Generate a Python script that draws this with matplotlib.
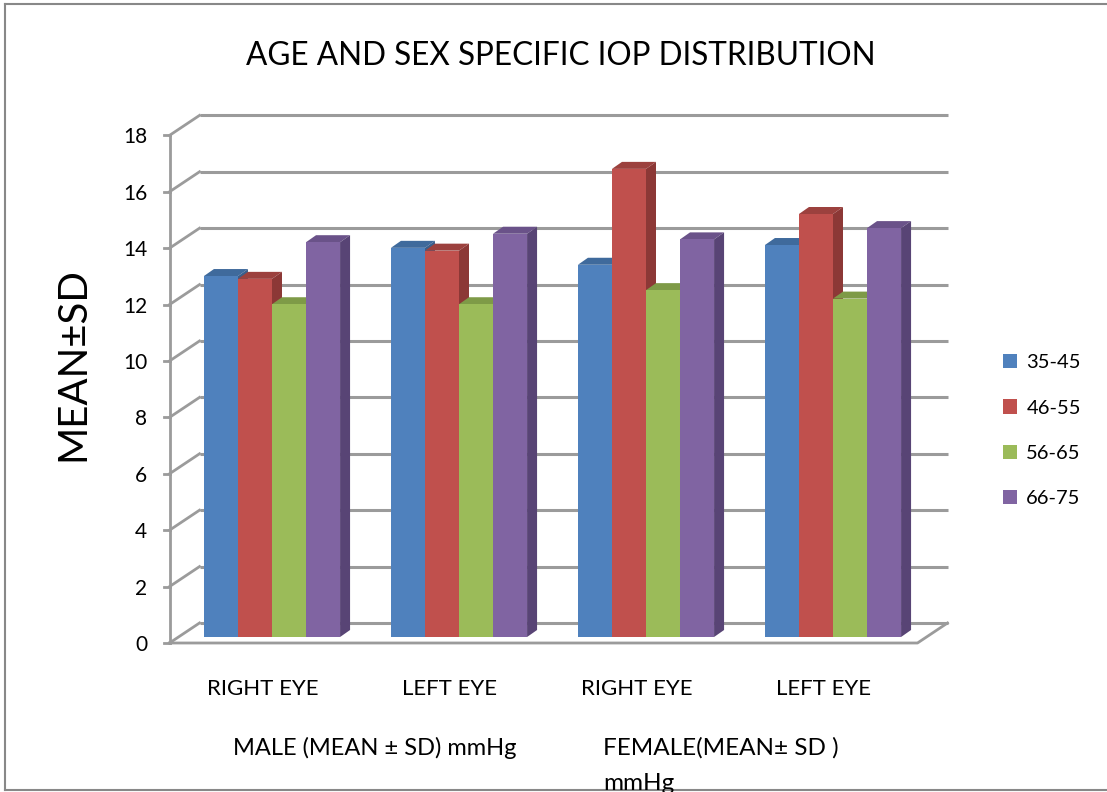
import matplotlib.pyplot as plt
from matplotlib.patches import Polygon, Patch
from matplotlib.lines import Line2D

# ----------------------------------------------------------
# Data
# ----------------------------------------------------------
categories = ["RIGHT EYE", "LEFT EYE", "RIGHT EYE", "LEFT EYE"]
age_groups = ["35-45", "46-55", "56-65", "66-75"]
iop_35_45 = [12.8, 13.8, 13.2, 13.9]
iop_46_55 = [12.7, 13.7, 16.6, 15.0]
iop_56_65 = [11.8, 11.8, 12.3, 12.0]
iop_66_75 = [14.0, 14.3, 14.1, 14.5]
y_ticks = list(range(0, 20, 2))
male_label = "MALE (MEAN \u00b1 SD) mmHg"
female_label = "FEMALE(MEAN\u00b1 SD )\nmmHg"

series = [iop_35_45, iop_46_55, iop_56_65, iop_66_75]
front_colors = ["#4F81BD", "#C0504D", "#9BBB59", "#8064A2"]
side_colors = ["#3A5F8C", "#8C3836", "#728A40", "#584475"]
top_colors = ["#3F6A9C", "#9C413E", "#7E9A47", "#6A5289"]

plt.rcParams["font.family"] = ["Lato", "DejaVu Sans"]

W, H = 1107, 792
PX, PY = 187.0, 28.2          # pixels per x unit / per value unit

# 3D look: offsets (data units) relative to the plane of the bar fronts
bar_dx, bar_dy = 10 / PX, 7 / PY
front_dx, front_dy = -9 / PX, -6 / PY
back_dx, back_dy = 21 / PX, 14 / PY
wall_left, wall_right = -0.5, 3.5
bw = 0.182
grid_col = "#9b9b9b"

fig = plt.figure(figsize=(W / 100, H / 100), dpi=100)

# axes placed so category 0 centre is at x=272 px and value 0 at y=637 px
xlim = (-0.6, 3.9)
ylim = (-0.8, 19.3)
left_px = 272 + xlim[0] * PX
bottom_px = 637 - ylim[0] * PY
ax = fig.add_axes([left_px / W, (H - bottom_px) / H,
                   (xlim[1] - xlim[0]) * PX / W, (ylim[1] - ylim[0]) * PY / H])
ax.set_xlim(*xlim)
ax.set_ylim(*ylim)
for s in ax.spines.values():
    s.set_visible(False)

# --------------------------------------------------
# Walls: back gridlines, side diagonals, floor, axis
# --------------------------------------------------
fx0 = wall_left + front_dx
bx0, bx1 = wall_left + back_dx, wall_right + back_dx
for v in y_ticks:
    ax.plot([bx0, bx1], [v + back_dy, v + back_dy], color=grid_col, lw=2.2,
            zorder=1, solid_capstyle="butt")
    ax.plot([fx0, bx0], [v + front_dy, v + back_dy], color=grid_col, lw=2.0, zorder=1)
    ax.plot([fx0 - 6 / PX, fx0], [v + front_dy, v + front_dy], color=grid_col,
            lw=2.0, zorder=1)
ax.plot([fx0, fx0], [front_dy, y_ticks[-1] + front_dy], color=grid_col, lw=2.0, zorder=1)
fx1 = wall_right + front_dx
ax.plot([fx0, fx1, bx1], [front_dy, front_dy, back_dy], color=grid_col, lw=2.0, zorder=1)

# --------------------------------------------------
# Bars with top and side faces
# --------------------------------------------------
xs = list(range(len(categories)))
for j, vals in enumerate(series):
    lefts = [x - 2 * bw + j * bw for x in xs]
    ax.bar(lefts, vals, width=bw, align="edge", color=front_colors[j],
           zorder=3 + 2 * j, linewidth=0)
    for xl, v in zip(lefts, vals):
        xr = xl + bw
        top = Polygon([(xl, v), (xr, v), (xr + bar_dx, v + bar_dy), (xl + bar_dx, v + bar_dy)],
                      closed=True, facecolor=top_colors[j], lw=0, zorder=2 + 2 * j)
        side = Polygon([(xr, 0), (xr + bar_dx, bar_dy), (xr + bar_dx, v + bar_dy), (xr, v)],
                       closed=True, facecolor=side_colors[j], lw=0, zorder=2 + 2 * j)
        ax.add_patch(top)
        ax.add_patch(side)

# --------------------------------------------------
# Ticks and labels
# --------------------------------------------------
ax.set_yticks([v + front_dy for v in y_ticks], [str(v) for v in y_ticks])
ax.set_xticks([x + front_dx for x in xs], categories)
ax.tick_params(axis="y", length=0, pad=9, labelsize=15)
ax.tick_params(axis="x", length=0, pad=14, labelsize=16)

ax.set_ylabel("MEAN\u00b1SD", fontsize=29)
ax.yaxis.set_label_coords(-0.081, 0.522)

fig.text(561 / W, 1 - 56 / H, "AGE AND SEX SPECIFIC IOP DISTRIBUTION",
         fontsize=22.7, ha="center", va="center")
fig.text(233 / W, 1 - 737 / H, male_label, fontsize=17, ha="left", va="top")
fig.text(603 / W, 1 - 737 / H, female_label, fontsize=17.5, ha="left", va="top",
         linespacing=1.85)

handles = [Patch(facecolor=c, edgecolor="none") for c in front_colors]
fig.legend(handles, age_groups, loc="upper left", bbox_to_anchor=(985 / W, 1 - 336 / H),
           frameon=False, fontsize=14.5, handlelength=0.7, handleheight=0.7,
           handletextpad=0.45, labelspacing=1.4)

# outer chart border
fig.add_artist(Line2D([5 / W, 5 / W], [1 - 790 / H, 1 - 4 / H], color="#888888", lw=1.5))
fig.add_artist(Line2D([5 / W, 1], [1 - 4 / H, 1 - 4 / H], color="#888888", lw=1.5))
fig.add_artist(Line2D([5 / W, 1], [1 - 790 / H, 1 - 790 / H], color="#888888", lw=1.5))

fig.savefig("out.png", dpi=100)
